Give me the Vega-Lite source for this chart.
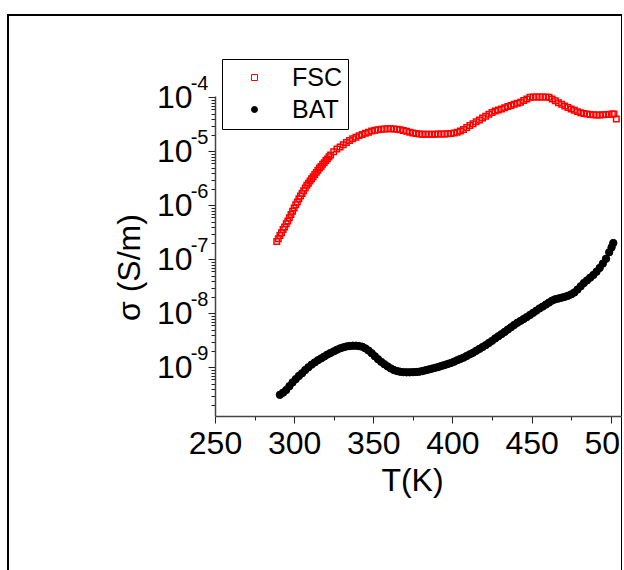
{
  "$schema": "https://vega.github.io/schema/vega-lite/v6.json",
  "width": 614,
  "height": 560,
  "autosize": {"type": "none"},
  "padding": {"left": 8, "top": 15, "right": 0, "bottom": 0},
  "background": "white",
  "config": {
    "font": "Liberation Sans",
    "view": {"stroke": "black", "strokeWidth": 2},
    "axis": {"grid": false, "labelColor": "black", "titleColor": "black", "tickColor": "#222", "domainColor": "#444", "labelFontWeight": "normal", "titleFontWeight": "normal", "labelOverlap": false, "labelFlush": false, "labelBound": false, "labelFont": "Liberation Sans", "titleFont": "Liberation Sans"}
  },
  "data": {"values": [
    {"s":"FSC","T":289,"v":2.14e-7},{"s":"FSC","T":290,"v":2.40e-7},{"s":"FSC","T":291,"v":2.75e-7},{"s":"FSC","T":292,"v":3.09e-7},{"s":"FSC","T":293,"v":3.55e-7},{"s":"FSC","T":294,"v":3.98e-7},{"s":"FSC","T":295,"v":4.57e-7},{"s":"FSC","T":296,"v":5.13e-7},{"s":"FSC","T":297,"v":5.89e-7},{"s":"FSC","T":298,"v":6.76e-7},{"s":"FSC","T":299,"v":7.76e-7},{"s":"FSC","T":300,"v":8.91e-7},{"s":"FSC","T":301,"v":1.02e-6},{"s":"FSC","T":302,"v":1.15e-6},{"s":"FSC","T":303,"v":1.32e-6},{"s":"FSC","T":304,"v":1.48e-6},{"s":"FSC","T":305,"v":1.66e-6},{"s":"FSC","T":306,"v":1.86e-6},{"s":"FSC","T":307,"v":2.09e-6},{"s":"FSC","T":308,"v":2.34e-6},{"s":"FSC","T":309,"v":2.57e-6},{"s":"FSC","T":310,"v":2.82e-6},{"s":"FSC","T":311,"v":3.09e-6},{"s":"FSC","T":312,"v":3.39e-6},{"s":"FSC","T":313,"v":3.72e-6},{"s":"FSC","T":314,"v":4.07e-6},{"s":"FSC","T":315,"v":4.47e-6},{"s":"FSC","T":316,"v":4.90e-6},{"s":"FSC","T":317,"v":5.25e-6},{"s":"FSC","T":318,"v":5.75e-6},{"s":"FSC","T":319,"v":6.17e-6},{"s":"FSC","T":320,"v":6.76e-6},{"s":"FSC","T":321,"v":7.24e-6},{"s":"FSC","T":322,"v":7.94e-6},{"s":"FSC","T":323,"v":8.51e-6},{"s":"FSC","T":325,"v":9.77e-6},{"s":"FSC","T":327,"v":1.10e-5},{"s":"FSC","T":329,"v":1.20e-5},{"s":"FSC","T":331,"v":1.32e-5},{"s":"FSC","T":333,"v":1.45e-5},{"s":"FSC","T":335,"v":1.58e-5},{"s":"FSC","T":337,"v":1.70e-5},{"s":"FSC","T":339,"v":1.82e-5},{"s":"FSC","T":341,"v":1.95e-5},{"s":"FSC","T":343,"v":2.04e-5},{"s":"FSC","T":345,"v":2.16e-5},{"s":"FSC","T":347,"v":2.26e-5},{"s":"FSC","T":349,"v":2.37e-5},{"s":"FSC","T":351,"v":2.45e-5},{"s":"FSC","T":353,"v":2.51e-5},{"s":"FSC","T":355,"v":2.57e-5},{"s":"FSC","T":357,"v":2.60e-5},{"s":"FSC","T":359,"v":2.61e-5},{"s":"FSC","T":361,"v":2.61e-5},{"s":"FSC","T":363,"v":2.60e-5},{"s":"FSC","T":365,"v":2.57e-5},{"s":"FSC","T":367,"v":2.51e-5},{"s":"FSC","T":369,"v":2.43e-5},{"s":"FSC","T":371,"v":2.34e-5},{"s":"FSC","T":373,"v":2.26e-5},{"s":"FSC","T":375,"v":2.19e-5},{"s":"FSC","T":377,"v":2.14e-5},{"s":"FSC","T":379,"v":2.09e-5},{"s":"FSC","T":381,"v":2.07e-5},{"s":"FSC","T":383,"v":2.07e-5},{"s":"FSC","T":385,"v":2.06e-5},{"s":"FSC","T":387,"v":2.07e-5},{"s":"FSC","T":389,"v":2.07e-5},{"s":"FSC","T":391,"v":2.09e-5},{"s":"FSC","T":393,"v":2.09e-5},{"s":"FSC","T":395,"v":2.10e-5},{"s":"FSC","T":397,"v":2.11e-5},{"s":"FSC","T":399,"v":2.14e-5},{"s":"FSC","T":401,"v":2.19e-5},{"s":"FSC","T":403,"v":2.26e-5},{"s":"FSC","T":405,"v":2.37e-5},{"s":"FSC","T":407,"v":2.54e-5},{"s":"FSC","T":409,"v":2.75e-5},{"s":"FSC","T":411,"v":2.99e-5},{"s":"FSC","T":413,"v":3.24e-5},{"s":"FSC","T":415,"v":3.51e-5},{"s":"FSC","T":417,"v":3.80e-5},{"s":"FSC","T":419,"v":4.12e-5},{"s":"FSC","T":421,"v":4.47e-5},{"s":"FSC","T":423,"v":4.84e-5},{"s":"FSC","T":425,"v":5.25e-5},{"s":"FSC","T":427,"v":5.56e-5},{"s":"FSC","T":429,"v":5.82e-5},{"s":"FSC","T":431,"v":6.10e-5},{"s":"FSC","T":433,"v":6.38e-5},{"s":"FSC","T":435,"v":6.76e-5},{"s":"FSC","T":437,"v":7.08e-5},{"s":"FSC","T":439,"v":7.41e-5},{"s":"FSC","T":441,"v":7.76e-5},{"s":"FSC","T":443,"v":8.13e-5},{"s":"FSC","T":445,"v":8.71e-5},{"s":"FSC","T":447,"v":9.33e-5},{"s":"FSC","T":449,"v":1.00e-4},{"s":"FSC","T":451,"v":1.01e-4},{"s":"FSC","T":453,"v":1.01e-4},{"s":"FSC","T":455,"v":1.01e-4},{"s":"FSC","T":457,"v":1.01e-4},{"s":"FSC","T":459,"v":1.01e-4},{"s":"FSC","T":461,"v":1.00e-4},{"s":"FSC","T":463,"v":9.33e-5},{"s":"FSC","T":465,"v":8.61e-5},{"s":"FSC","T":467,"v":7.94e-5},{"s":"FSC","T":469,"v":7.41e-5},{"s":"FSC","T":471,"v":6.92e-5},{"s":"FSC","T":473,"v":6.46e-5},{"s":"FSC","T":475,"v":6.10e-5},{"s":"FSC","T":477,"v":5.75e-5},{"s":"FSC","T":479,"v":5.43e-5},{"s":"FSC","T":481,"v":5.19e-5},{"s":"FSC","T":483,"v":5.01e-5},{"s":"FSC","T":485,"v":4.90e-5},{"s":"FSC","T":487,"v":4.79e-5},{"s":"FSC","T":489,"v":4.73e-5},{"s":"FSC","T":491,"v":4.70e-5},{"s":"FSC","T":493,"v":4.70e-5},{"s":"FSC","T":495,"v":4.73e-5},{"s":"FSC","T":497,"v":4.79e-5},{"s":"FSC","T":499,"v":4.84e-5},{"s":"FSC","T":501,"v":4.90e-5},{"s":"FSC","T":502,"v":4.90e-5},{"s":"FSC","T":503.5,"v":3.98e-5},
    {"s":"BAT","T":291,"v":3.09e-10},{"s":"BAT","T":293,"v":3.39e-10},{"s":"BAT","T":295,"v":3.80e-10},{"s":"BAT","T":297,"v":4.47e-10},{"s":"BAT","T":299,"v":5.25e-10},{"s":"BAT","T":301,"v":6.03e-10},{"s":"BAT","T":303,"v":6.92e-10},{"s":"BAT","T":305,"v":7.76e-10},{"s":"BAT","T":307,"v":8.91e-10},{"s":"BAT","T":309,"v":1.00e-9},{"s":"BAT","T":311,"v":1.12e-9},{"s":"BAT","T":313,"v":1.23e-9},{"s":"BAT","T":315,"v":1.35e-9},{"s":"BAT","T":317,"v":1.46e-9},{"s":"BAT","T":319,"v":1.58e-9},{"s":"BAT","T":321,"v":1.72e-9},{"s":"BAT","T":323,"v":1.84e-9},{"s":"BAT","T":325,"v":1.97e-9},{"s":"BAT","T":327,"v":2.11e-9},{"s":"BAT","T":329,"v":2.24e-9},{"s":"BAT","T":331,"v":2.34e-9},{"s":"BAT","T":333,"v":2.43e-9},{"s":"BAT","T":335,"v":2.48e-9},{"s":"BAT","T":337,"v":2.51e-9},{"s":"BAT","T":339,"v":2.51e-9},{"s":"BAT","T":341,"v":2.47e-9},{"s":"BAT","T":343,"v":2.40e-9},{"s":"BAT","T":345,"v":2.24e-9},{"s":"BAT","T":347,"v":2.04e-9},{"s":"BAT","T":349,"v":1.82e-9},{"s":"BAT","T":351,"v":1.60e-9},{"s":"BAT","T":353,"v":1.41e-9},{"s":"BAT","T":355,"v":1.26e-9},{"s":"BAT","T":357,"v":1.14e-9},{"s":"BAT","T":359,"v":1.04e-9},{"s":"BAT","T":361,"v":9.55e-10},{"s":"BAT","T":363,"v":8.91e-10},{"s":"BAT","T":365,"v":8.51e-10},{"s":"BAT","T":367,"v":8.26e-10},{"s":"BAT","T":369,"v":8.13e-10},{"s":"BAT","T":371,"v":8.07e-10},{"s":"BAT","T":373,"v":8.07e-10},{"s":"BAT","T":375,"v":8.13e-10},{"s":"BAT","T":377,"v":8.18e-10},{"s":"BAT","T":379,"v":8.28e-10},{"s":"BAT","T":381,"v":8.51e-10},{"s":"BAT","T":383,"v":8.81e-10},{"s":"BAT","T":385,"v":9.12e-10},{"s":"BAT","T":387,"v":9.44e-10},{"s":"BAT","T":389,"v":9.77e-10},{"s":"BAT","T":391,"v":1.01e-9},{"s":"BAT","T":393,"v":1.06e-9},{"s":"BAT","T":395,"v":1.10e-9},{"s":"BAT","T":397,"v":1.15e-9},{"s":"BAT","T":399,"v":1.20e-9},{"s":"BAT","T":401,"v":1.27e-9},{"s":"BAT","T":403,"v":1.35e-9},{"s":"BAT","T":405,"v":1.43e-9},{"s":"BAT","T":407,"v":1.51e-9},{"s":"BAT","T":409,"v":1.62e-9},{"s":"BAT","T":411,"v":1.74e-9},{"s":"BAT","T":413,"v":1.86e-9},{"s":"BAT","T":415,"v":2.02e-9},{"s":"BAT","T":417,"v":2.19e-9},{"s":"BAT","T":419,"v":2.37e-9},{"s":"BAT","T":421,"v":2.57e-9},{"s":"BAT","T":423,"v":2.82e-9},{"s":"BAT","T":425,"v":3.09e-9},{"s":"BAT","T":427,"v":3.43e-9},{"s":"BAT","T":429,"v":3.76e-9},{"s":"BAT","T":431,"v":4.12e-9},{"s":"BAT","T":433,"v":4.52e-9},{"s":"BAT","T":435,"v":5.01e-9},{"s":"BAT","T":437,"v":5.50e-9},{"s":"BAT","T":439,"v":6.10e-9},{"s":"BAT","T":441,"v":6.68e-9},{"s":"BAT","T":443,"v":7.24e-9},{"s":"BAT","T":445,"v":7.85e-9},{"s":"BAT","T":447,"v":8.51e-9},{"s":"BAT","T":449,"v":9.33e-9},{"s":"BAT","T":451,"v":1.02e-8},{"s":"BAT","T":453,"v":1.12e-8},{"s":"BAT","T":455,"v":1.23e-8},{"s":"BAT","T":457,"v":1.33e-8},{"s":"BAT","T":459,"v":1.45e-8},{"s":"BAT","T":461,"v":1.58e-8},{"s":"BAT","T":463,"v":1.72e-8},{"s":"BAT","T":465,"v":1.82e-8},{"s":"BAT","T":467,"v":1.88e-8},{"s":"BAT","T":469,"v":1.95e-8},{"s":"BAT","T":471,"v":2.02e-8},{"s":"BAT","T":473,"v":2.11e-8},{"s":"BAT","T":475,"v":2.24e-8},{"s":"BAT","T":477,"v":2.43e-8},{"s":"BAT","T":479,"v":2.75e-8},{"s":"BAT","T":481,"v":3.16e-8},{"s":"BAT","T":483,"v":3.63e-8},{"s":"BAT","T":485,"v":4.07e-8},{"s":"BAT","T":487,"v":4.57e-8},{"s":"BAT","T":489,"v":5.13e-8},{"s":"BAT","T":491,"v":5.89e-8},{"s":"BAT","T":493,"v":6.92e-8},{"s":"BAT","T":495,"v":8.32e-8},{"s":"BAT","T":497,"v":1.02e-7},{"s":"BAT","T":499,"v":1.35e-7},{"s":"BAT","T":500.5,"v":1.66e-7},{"s":"BAT","T":501.6,"v":2.00e-7}
  ]},
  "encoding": {
    "x": {
      "field": "T", "type": "quantitative",
      "scale": {"domain": [250, 507.1], "range": [207, 614], "nice": false, "zero": false},
      "axis": {
        "values": [250, 275, 300, 325, 350, 375, 400, 425, 450, 475, 500],
        "labelExpr": "datum.value % 50 == 0 ? datum.label : ''",
        "labelFontSize": 32, "labelPadding": 5,
        "tickSize": {"condition": {"test": "datum.value % 50 == 0", "value": 7}, "value": 4},
        "tickWidth": 1, "domainWidth": 1.5,
        "offset": -159,
        "title": "T(K)", "titleFontSize": 32, "titlePadding": 6, "titleX": 404
      }
    },
    "shape": {"field": "s", "type": "nominal", "scale": {"domain": ["FSC", "BAT"], "range": ["square", "circle"]},
      "legend": {"title": null, "orient": "none", "legendX": 214, "legendY": 44, "strokeColor": "black", "fillColor": "white", "padding": 6, "labelFontSize": 25, "labelFont": "Liberation Sans", "labelColor": "black", "symbolSize": 36, "symbolStrokeWidth": 1, "rowPadding": 6, "symbolOffset": 14, "labelOffset": 25}},
    "stroke": {"field": "s", "type": "nominal", "scale": {"domain": ["FSC", "BAT"], "range": ["#ff0000", "#000000"]}, "legend": {"title": null}},
    "fill": {"field": "s", "type": "nominal", "scale": {"domain": ["FSC", "BAT"], "range": ["transparent", "#000000"]}, "legend": {"title": null}}
  },
  "layer": [
    {
      "transform": [{"filter": "datum.s == 'FSC'"}],
      "mark": {"type": "point", "size": 30, "strokeWidth": 1.5, "opacity": 1},
      "encoding": {
        "y": {
          "field": "v", "type": "quantitative",
          "scale": {"type": "log", "domain": [1.253e-10, 1.057e-4], "range": [401, 81], "nice": false, "zero": false},
          "axis": {
            "orient": "left", "offset": -207,
            "values": [2e-10, 3e-10, 4e-10, 5e-10, 6e-10, 7e-10, 8e-10, 9e-10, 1e-9, 2e-9, 3e-9, 4e-9, 5e-9, 6e-9, 7e-9, 8e-9, 9e-9, 1e-8, 2e-8, 3e-8, 4e-8, 5e-8, 6e-8, 7e-8, 8e-8, 9e-8, 1e-7, 2e-7, 3e-7, 4e-7, 5e-7, 6e-7, 7e-7, 8e-7, 9e-7, 1e-6, 2e-6, 3e-6, 4e-6, 5e-6, 6e-6, 7e-6, 8e-6, 9e-6, 1e-5, 2e-5, 3e-5, 4e-5, 5e-5, 6e-5, 7e-5, 8e-5, 9e-5, 1e-4],
            "labelExpr": "abs(log(datum.value)/LN10 - round(log(datum.value)/LN10)) < 0.001 ? '10' : ''",
            "labelFontSize": 32, "labelPadding": 16, "labelBaseline": "middle",
            "tickSize": {"condition": {"test": "abs(log(datum.value)/LN10 - round(log(datum.value)/LN10)) < 0.001", "value": 7}, "value": 4},
            "tickWidth": 1, "domainWidth": 1.5,
            "title": "σ (S/m)", "titleFontSize": 32, "titlePadding": 10, "titleY": 252
          }
        }
      }
    },
    {
      "transform": [{"filter": "datum.s == 'BAT'"}],
      "mark": {"type": "point", "size": 55, "strokeWidth": 1, "opacity": 1},
      "encoding": {
        "y": {
          "field": "v", "type": "quantitative",
          "scale": {"type": "log", "domain": [1.253e-10, 1.057e-4], "range": [401, 81], "nice": false, "zero": false},
          "axis": {
            "orient": "left", "offset": -207,
            "values": [1e-9, 1e-8, 1e-7, 1e-6, 1e-5, 1e-4],
            "labelExpr": "'-' + round(-log(datum.value)/LN10)",
            "labelFontSize": 20, "labelPadding": 7, "labelOffset": -14, "labelBaseline": "middle",
            "ticks": false, "tickSize": 0, "domain": false,
            "title": null
          }
        }
      }
    }
  ],
  "resolve": {"axis": {"y": "independent"}}
}
